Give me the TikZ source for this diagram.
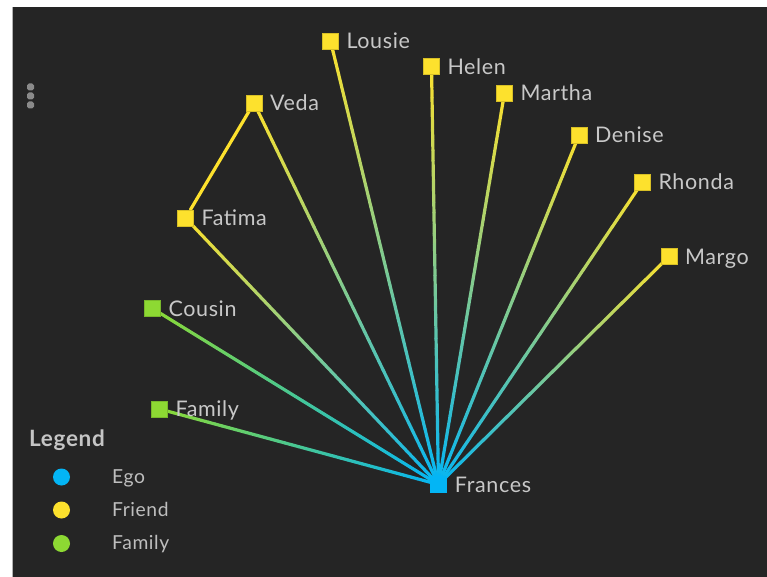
\documentclass[tikz,border=0pt]{standalone}
\usepackage{fontspec}
\setmainfont{Lato}[LetterSpace=3.0]
\usetikzlibrary{calc}
\pgfdeclarelayer{panel}
\pgfdeclarelayer{edges}
\pgfsetlayers{panel,edges,main}
\definecolor{panelbg}{HTML}{252525}
\definecolor{egoblue}{HTML}{03B5F5}
\definecolor{friendy}{HTML}{FDE12D}
\definecolor{famg}{HTML}{8DD933}
\definecolor{labelg}{HTML}{C8C8C8}
\definecolor{dotg}{HTML}{8A8A8A}
\tikzset{
  sq/.style={rectangle, minimum size=16pt, inner sep=0pt, fill=#1, draw=#1!85!black, line width=0.6pt},
  egosq/.style={rectangle, minimum size=17pt, inner sep=0pt, fill=egoblue},
  lbl/.style={anchor=west, inner sep=0pt, text height=15.2pt, text depth=0pt, text=labelg, font=\fontsize{21.5}{25}\selectfont},
  legtxt/.style={anchor=west, inner sep=0pt, text height=13.8pt, text depth=0pt, text=labelg!95!black, font=\fontsize{19.3}{23}\selectfont},
  legdot/.style={circle, minimum size=17pt, inner sep=0pt, fill=#1},
  edgeseg/.style={line width=3.2pt, line cap=round},
  menudot/.style={rectangle, rounded corners=1.8pt, minimum size=7pt, inner sep=0pt, fill=dotg}
}
\newcommand{\gedge}[3]{%
  \foreach \i in {0,...,39}{%
    \pgfmathsetmacro\ta{\i/40}%
    \pgfmathsetmacro\tb{(\i+1)/40}%
    \pgfmathtruncatemacro\pc{round(100*(\i+0.5)/40)}%
    \draw[edgeseg, color=egoblue!\pc!#3] ($(#1)!\ta!(#2)$) -- ($(#1)!\tb!(#2)$);
  }}
\begin{document}
\begin{tikzpicture}[x=1pt,y=-1pt]
\useasboundingbox (0,0) rectangle (767,577);
\begin{pgfonlayer}{panel}
  \fill[white] (0,0) rectangle (767,577);
  \fill[panelbg] (13,7) rectangle (767,577);
  \fill[black!30] (12.2,7) rectangle (13.4,577);
\end{pgfonlayer}
% menu dots
\node[menudot] (m1) at (30.5,87) {};
\node[menudot] (m2) at (30.5,96) {};
\node[menudot] (m3) at (30.5,105) {};
% nodes
\node[egosq] (frances) at (438.5,484.5) {};
\node[sq=friendy] (lousie) at (330.5,41) {};
\node[sq=friendy] (helen) at (431.5,66.5) {};
\node[sq=friendy] (martha) at (504.5,93) {};
\node[sq=friendy] (denise) at (579,135) {};
\node[sq=friendy] (rhonda) at (642.5,182) {};
\node[sq=friendy] (margo) at (669,256.5) {};
\node[sq=friendy] (veda) at (254,103) {};
\node[sq=friendy] (fatima) at (185.5,218) {};
\node[sq=famg] (cousin) at (152.5,308.5) {};
\node[sq=famg] (family) at (159.5,409) {};
% labels
\node[lbl] (tfrances) at ([xshift=7.5pt]frances.east) {Frances};
\node[lbl] (tlousie) at ([xshift=7.5pt]lousie.east) {Lousie};
\node[lbl] (thelen) at ([xshift=7.5pt]helen.east) {Helen};
\node[lbl] (tmartha) at ([xshift=7.5pt]martha.east) {Martha};
\node[lbl] (tdenise) at ([xshift=7.5pt]denise.east) {Denise};
\node[lbl] (trhonda) at ([xshift=7.5pt]rhonda.east) {Rhonda};
\node[lbl] (tmargo) at ([xshift=7.5pt]margo.east) {Margo};
\node[lbl] (tveda) at ([xshift=7.5pt]veda.east) {Veda};
\node[lbl] (tfatima) at ([xshift=7.5pt]fatima.east) {Fatima};
\node[lbl] (tcousin) at ([xshift=7.5pt]cousin.east) {Cousin};
\node[lbl] (tfamily) at ([xshift=7.5pt]family.east) {Family};
% edges
\begin{pgfonlayer}{edges}
  \gedge{lousie}{frances}{friendy}
  \gedge{helen}{frances}{friendy}
  \gedge{martha}{frances}{friendy}
  \gedge{denise}{frances}{friendy}
  \gedge{rhonda}{frances}{friendy}
  \gedge{margo}{frances}{friendy}
  \gedge{veda}{frances}{friendy}
  \gedge{fatima}{frances}{friendy}
  \gedge{cousin}{frances}{famg}
  \gedge{family}{frances}{famg}
  \draw[edgeseg, color=friendy] (veda) -- (fatima);
\end{pgfonlayer}
% legend
\node[anchor=base west, inner sep=0pt, text=labelg!105, font=\fontsize{22.5}{26}\selectfont\bfseries] (legtitle) at (29,446.5) {Legend};
\node[legdot=egoblue] (dego) at (61.5,477) {};
\node[legdot=friendy] (dfriend) at (61.5,510) {};
\node[legdot=famg] (dfamily) at (61.5,543.5) {};
\node[legtxt] (lego) at (112,476.5) {Ego};
\node[legtxt] (lfriend) at (112,509.5) {Friend};
\node[legtxt] (lfamily) at (112,542.5) {Family};
\end{tikzpicture}
\end{document}
